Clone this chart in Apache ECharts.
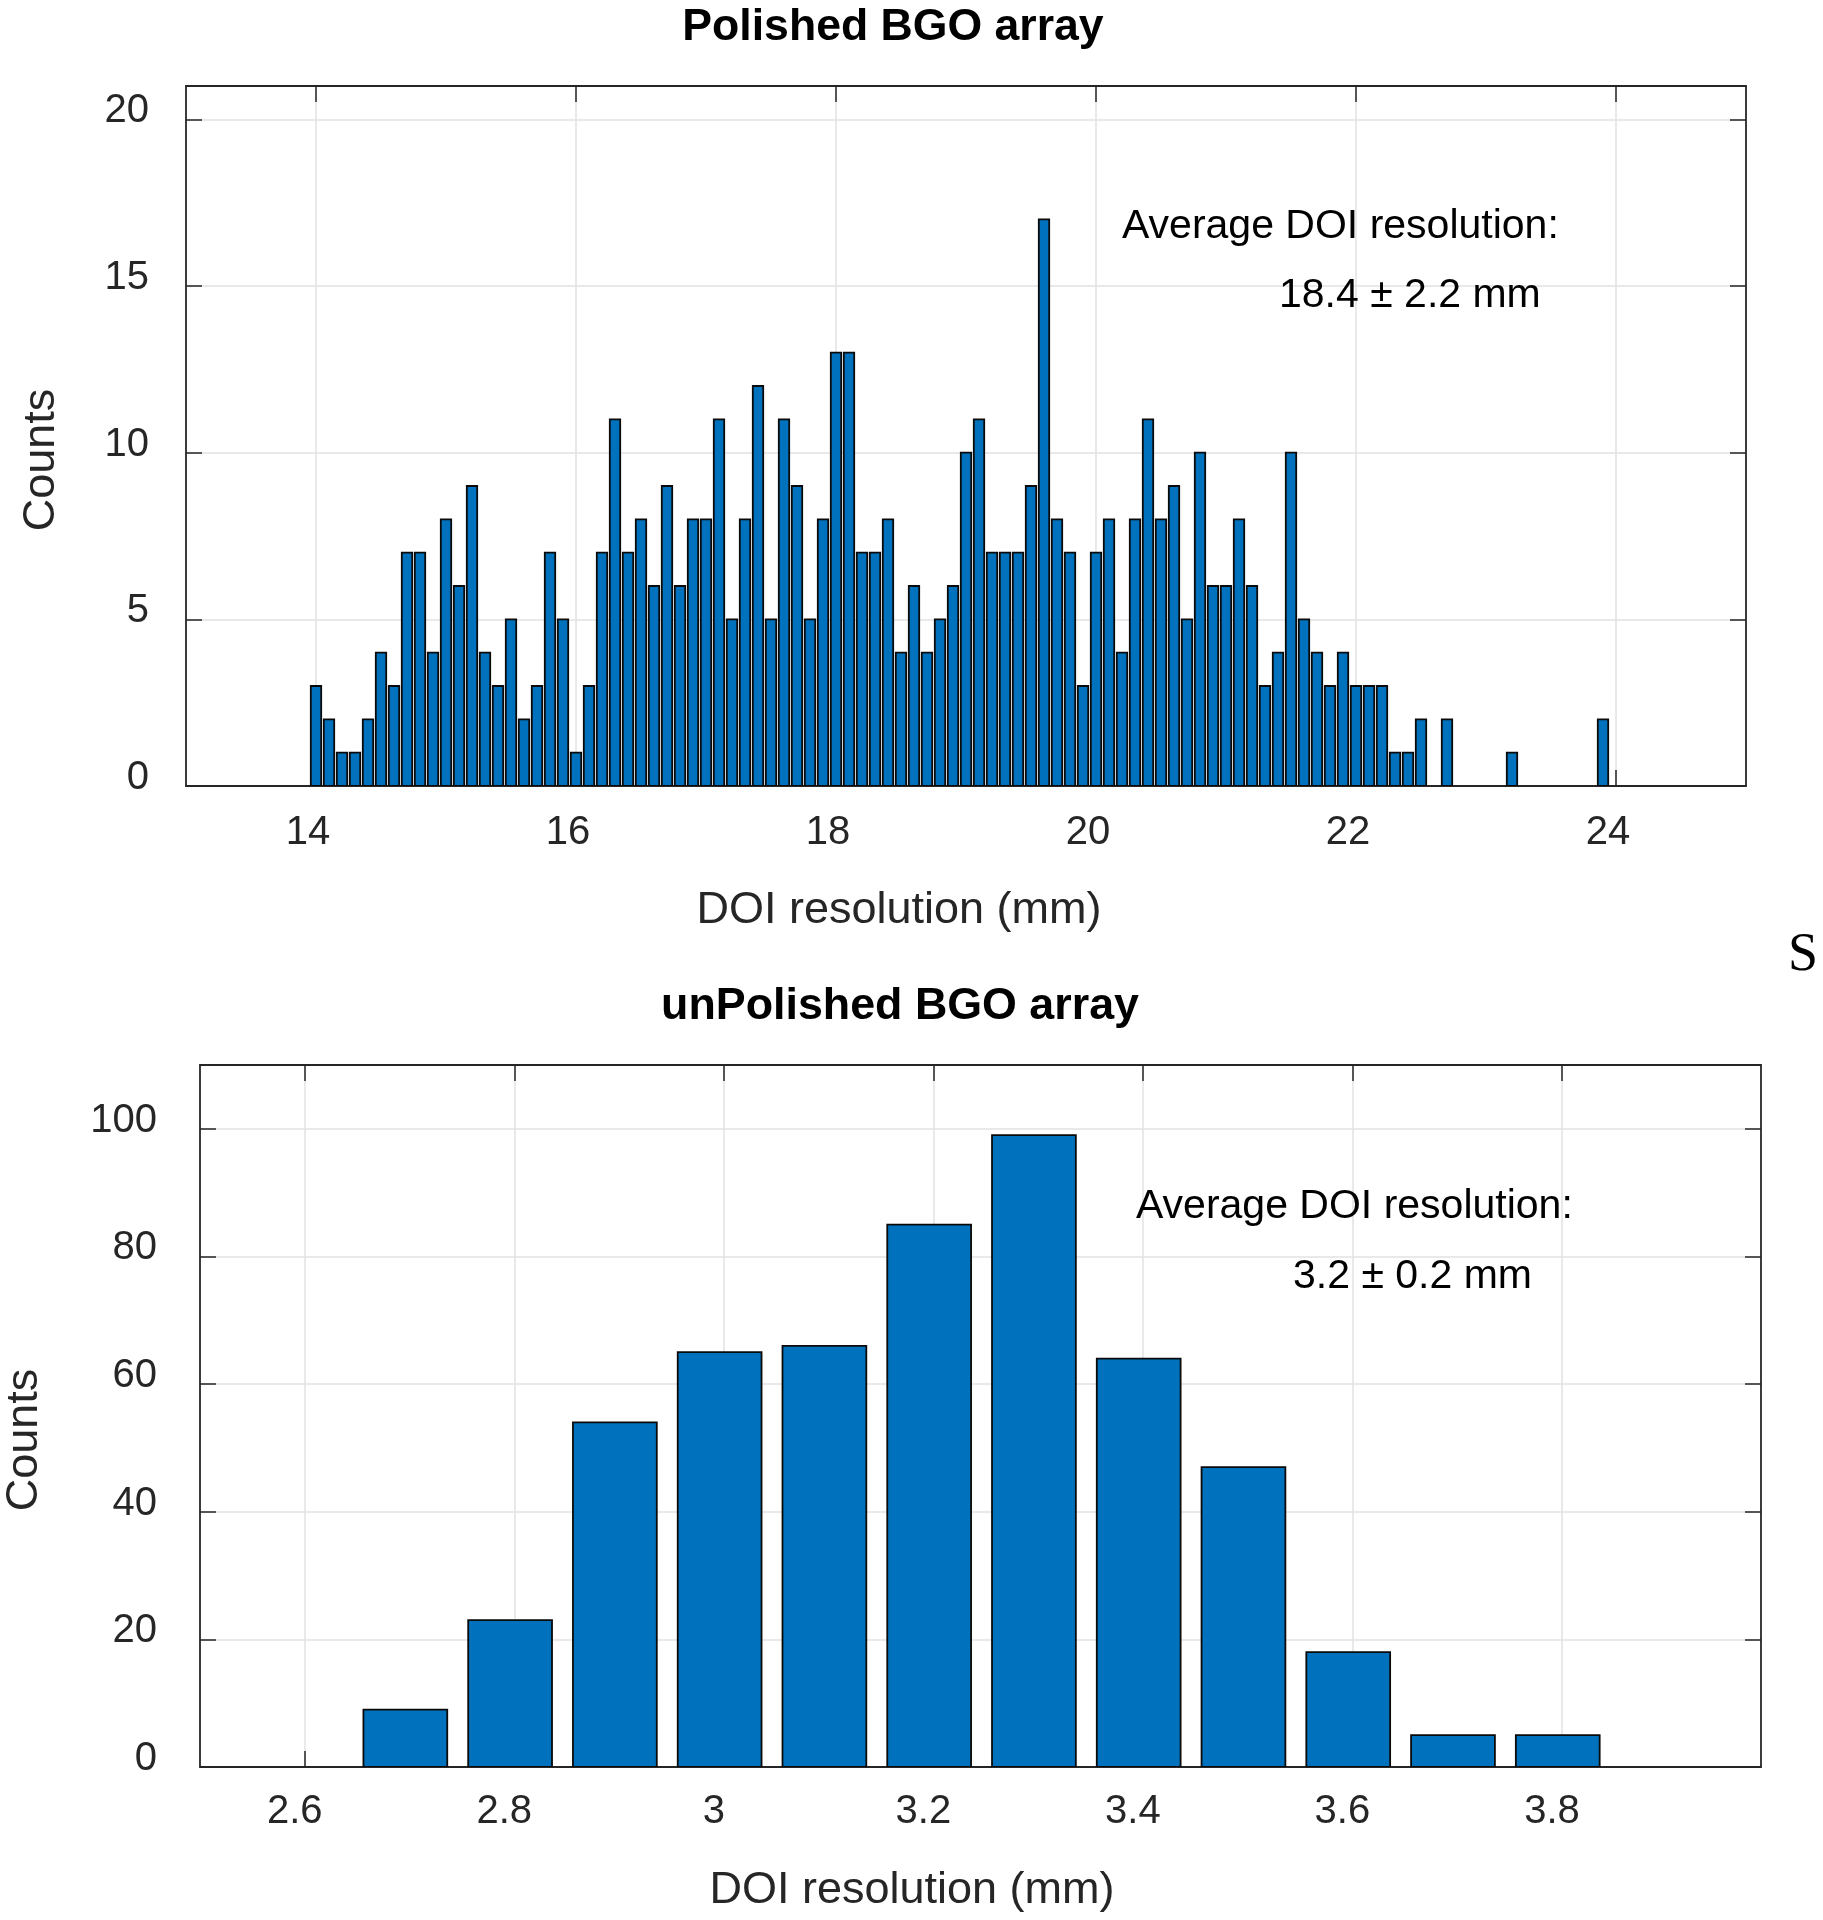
<!DOCTYPE html>
<html>
<head>
<meta charset="utf-8">
<script src="https://cdn.jsdelivr.net/npm/echarts@6/dist/echarts.min.js"></script>
<style>
html,body{margin:0;padding:0;background:#fff;}
#chart{width:1823px;height:1920px;}
</style>
</head>
<body>
<div id="chart"></div>
<script>
// ---------- Data ----------
const polishedTitle = 'Polished BGO array';
const unpolishedTitle = 'unPolished BGO array';
const xAxisName = 'DOI resolution (mm)';
const yAxisName = 'Counts';
const polishedNoteLine1 = 'Average DOI resolution:';
const polishedNoteLine2 = '18.4 \u00b1 2.2 mm';
const unpolishedNoteLine1 = 'Average DOI resolution:';
const unpolishedNoteLine2 = '3.2 \u00b1 0.2 mm';

// bin centres (mm) and counts, polished array
const polishedBins = [
  14.0,14.1,14.2,14.3,14.4,14.5,14.6,14.7,14.8,14.9,
  15.0,15.1,15.2,15.3,15.4,15.5,15.6,15.7,15.8,15.9,
  16.0,16.1,16.2,16.3,16.4,16.5,16.6,16.7,16.8,16.9,
  17.0,17.1,17.2,17.3,17.4,17.5,17.6,17.7,17.8,17.9,
  18.0,18.1,18.2,18.3,18.4,18.5,18.6,18.7,18.8,18.9,
  19.0,19.1,19.2,19.3,19.4,19.5,19.6,19.7,19.8,19.9,
  20.0,20.1,20.2,20.3,20.4,20.5,20.6,20.7,20.8,20.9,
  21.0,21.1,21.2,21.3,21.4,21.5,21.6,21.7,21.8,21.9,
  22.0,22.1,22.2,22.3,22.4,22.5,22.6,22.7,22.8,22.9,
  23.0,23.1,23.2,23.3,23.4,23.5,23.6,23.7,23.8,23.9
];
const polishedCounts = [
  3,2,1,1,2,4,3,7,7,4,
  8,6,9,4,3,5,2,3,7,5,
  1,3,7,11,7,8,6,9,6,8,
  8,11,5,8,12,5,11,9,5,8,
  13,13,7,7,8,4,6,4,5,6,
  10,11,7,7,7,9,17,8,7,3,
  7,8,4,8,11,8,9,5,10,6,
  6,8,6,3,4,10,5,4,3,4,
  3,3,3,1,1,2,0,2,0,0,
  0,0,1,0,0,0,0,0,0,2
];

// bin centres (mm) and counts, unpolished array (centres)
const unpolishedBins = [2.696,2.796,2.896,2.996,3.096,3.196,3.296,3.396,3.496,3.596,3.696,3.796];
const unpolishedCounts = [9,23,54,65,66,85,99,64,47,18,5,5];

// axis ticks
const polishedXTicks = [14,16,18,20,22,24];
const polishedYTicks = [0,5,10,15,20];
const unpolishedXTicks = [2.6,2.8,3.0,3.2,3.4,3.6,3.8];
const unpolishedYTicks = [0,20,40,60,80,100];

// ---------- Styles ----------
const FONT = '"Liberation Sans", Arial, Helvetica, sans-serif';
const AX = '#262626';
const GRIDC = '#e2e2e2';
const BAR_FILL = '#0072BD';
const BAR_REL_WIDTH = 0.08; // bar width in data units (0.8 of 0.1 bin)

function rectRenderer(width) {
  return function (params, api) {
    const x = api.value(0), y = api.value(1);
    if (!y) return null;
    const p0 = api.coord([x - width / 2, y]);
    const p1 = api.coord([x + width / 2, 0]);
    return {
      type: 'rect',
      shape: { x: p0[0], y: p0[1], width: p1[0] - p0[0], height: p1[1] - p0[1] },
      style: { fill: BAR_FILL, stroke: '#0a0a0a', lineWidth: 1.8 }
    };
  };
}

function mainX(grid, min, max, ticks, margin, pad) {
  return {
    type: 'value', gridIndex: grid, min: min, max: max, position: 'bottom',
    axisLine: { show: true, onZero: false, lineStyle: { color: AX, width: 1.8 } },
    axisTick: { show: true, inside: true, length: 16, customValues: ticks, lineStyle: { color: AX, width: 1.5 } },
    axisLabel: { customValues: ticks, margin: margin, fontSize: 40, color: AX, fontFamily: FONT, padding: pad },
    splitLine: { show: true, lineStyle: { color: GRIDC, width: 1.5 } }
  };
}
function mirrorX(grid, min, max, ticks) {
  return {
    type: 'value', gridIndex: grid, min: min, max: max, position: 'top',
    axisLine: { show: true, onZero: false, lineStyle: { color: AX, width: 1.8 } },
    axisTick: { show: true, inside: true, length: 16, customValues: ticks, lineStyle: { color: AX, width: 1.5 } },
    axisLabel: { show: false },
    splitLine: { show: false }
  };
}
function mainY(grid, min, max, ticks, margin) {
  return {
    type: 'value', gridIndex: grid, min: min, max: max, position: 'left',
    axisLine: { show: true, onZero: false, lineStyle: { color: AX, width: 1.8 } },
    axisTick: { show: true, inside: true, length: 16, customValues: ticks, lineStyle: { color: AX, width: 1.5 } },
    axisLabel: {
      customValues: ticks, margin: margin, fontSize: 40, color: AX, fontFamily: FONT,
      verticalAlign: 'bottom', lineHeight: 16
    },
    splitLine: { show: true, lineStyle: { color: GRIDC, width: 1.5 } }
  };
}
function mirrorY(grid, min, max, ticks) {
  return {
    type: 'value', gridIndex: grid, min: min, max: max, position: 'right',
    axisLine: { show: true, onZero: false, lineStyle: { color: AX, width: 1.8 } },
    axisTick: { show: true, inside: true, length: 16, customValues: ticks, lineStyle: { color: AX, width: 1.5 } },
    axisLabel: { show: false },
    splitLine: { show: false }
  };
}

function txt(text, x, y, opts) {
  return {
    type: 'text', x: x, y: y, rotation: opts.rotation || 0, z: 100,
    style: Object.assign({
      text: text, fontFamily: FONT, fontSize: 41, fill: '#000',
      align: 'center', verticalAlign: 'middle'
    }, opts.style || {})
  };
}

const chart = echarts.init(document.getElementById('chart'), null, { renderer: 'canvas' });

const option = {
  backgroundColor: '#fff',
  animation: false,
  grid: [
    { left: 186, top: 86, width: 1560, height: 700, containLabel: false },
    { left: 200, top: 1065, width: 1561, height: 702, containLabel: false }
  ],
  xAxis: [
    mainX(0, 13, 25, polishedXTicks, 27, [0, 16, 0, 0]),
    mirrorX(0, 13, 25, polishedXTicks),
    mainX(1, 2.5, 3.99, unpolishedXTicks, 25, [0, 20, 0, 0]),
    mirrorX(1, 2.5, 3.99, unpolishedXTicks)
  ],
  yAxis: [
    mainY(0, 0, 21, polishedYTicks, 37),
    mirrorY(0, 0, 21, polishedYTicks),
    mainY(1, 0, 110, unpolishedYTicks, 43),
    mirrorY(1, 0, 110, unpolishedYTicks)
  ],
  series: [
    {
      type: 'custom', xAxisIndex: 0, yAxisIndex: 0, clip: true,
      renderItem: rectRenderer(BAR_REL_WIDTH),
      encode: { x: 0, y: 1 },
      data: polishedBins.map((b, i) => [b, polishedCounts[i]])
    },
    {
      type: 'custom', xAxisIndex: 2, yAxisIndex: 2, clip: true,
      renderItem: rectRenderer(BAR_REL_WIDTH),
      encode: { x: 0, y: 1 },
      data: unpolishedBins.map((b, i) => [b, unpolishedCounts[i]])
    }
  ],
  graphic: [
    txt(polishedTitle, 893, 28, { style: { fontSize: 44.6, fontWeight: 'bold' } }),
    txt(unpolishedTitle, 900, 1007, { style: { fontSize: 44.8, fontWeight: 'bold' } }),
    txt(xAxisName, 899, 911, { style: { fontSize: 45, fill: AX } }),
    txt(xAxisName, 912, 1891, { style: { fontSize: 45, fill: AX } }),
    txt(yAxisName, 42, 460, { rotation: Math.PI / 2, style: { fontSize: 45, fill: AX } }),
    txt(yAxisName, 25, 1440, { rotation: Math.PI / 2, style: { fontSize: 45, fill: AX } }),
    txt(polishedNoteLine1, 1122, 227, { style: { align: 'left' } }),
    txt(polishedNoteLine2, 1279, 296, { style: { align: 'left' } }),
    txt(unpolishedNoteLine1, 1136, 1207, { style: { align: 'left' } }),
    txt(unpolishedNoteLine2, 1293, 1277, { style: { align: 'left' } }),
    txt('S', 1803, 956, { style: { fontSize: 54, fontFamily: '"Liberation Serif", "Times New Roman", serif' } })
  ]
};
chart.setOption(option);
</script>
</body>
</html>
